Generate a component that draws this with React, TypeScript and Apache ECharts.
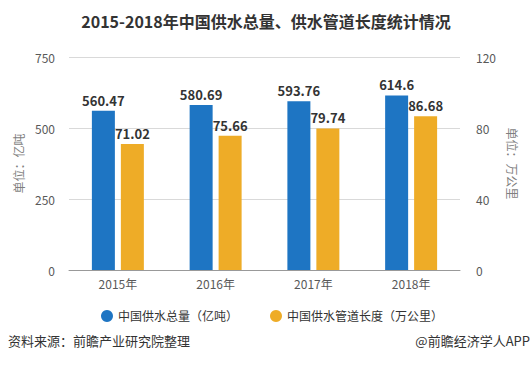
import React, { useEffect, useRef } from "react";
import * as echarts from "echarts";

const categories = ["2015年", "2016年", "2017年", "2018年"];
const supplyVolume = [560.47, 580.69, 593.76, 614.6];
const pipeLength = [71.02, 75.66, 79.74, 86.68];
const leftTicks = { min: 0, max: 750, interval: 250 };
const rightTicks = { min: 0, max: 120, interval: 40 };

const FONT = '"Noto Sans CJK SC", "Noto Sans", sans-serif';

export default function App() {
  const ref = useRef<HTMLDivElement>(null);
  useEffect(() => {
    if (!ref.current) return;
    const chart = echarts.init(ref.current, undefined, { renderer: "svg" });
    chart.setOption({
      animation: false,
      backgroundColor: "#ffffff",
      textStyle: { fontFamily: FONT },
      title: {
        text: "2015-2018年中国供水总量、供水管道长度统计情况",
        left: "center",
        top: 8,
        textStyle: { fontFamily: FONT, fontSize: 16, fontWeight: "bold", color: "#333333" },
      },
      legend: {
        bottom: 44,
        left: 96,
        itemGap: 32,
        icon: "circle",
        itemWidth: 12,
        itemHeight: 12,
        textStyle: { fontFamily: FONT, fontSize: 12, color: "#333333" },
        data: ["中国供水总量（亿吨）", "中国供水管道长度（万公里）"],
      },
      grid: { left: 69, right: 72, top: 57, bottom: 101 },
      xAxis: {
        type: "category",
        data: categories,
        axisTick: { alignWithLabel: true, length: 4, lineStyle: { color: "#999" } },
        axisLine: { lineStyle: { color: "#999999" } },
        axisLabel: { color: "#595959", fontSize: 12, fontFamily: FONT, margin: 7 },
      },
      yAxis: [
        {
          type: "value",
          ...leftTicks,
          name: "单位：亿吨",
          nameLocation: "middle",
          nameGap: 42,
          nameTextStyle: { color: "#7f7f7f", fontSize: 12, fontFamily: FONT },
          axisLine: { show: false },
          axisTick: { show: false },
          splitLine: { lineStyle: { color: "#d9d9d9" } },
          axisLabel: { color: "#595959", fontSize: 12, fontFamily: FONT, margin: 14 },
        },
        {
          type: "value",
          ...rightTicks,
          name: "单位：万公里",
          nameLocation: "middle",
          nameGap: 46,
          nameRotate: -90,
          nameTextStyle: { color: "#7f7f7f", fontSize: 12, fontFamily: FONT },
          axisLine: { show: false },
          axisTick: { show: false },
          splitLine: { show: false },
          axisLabel: { color: "#595959", fontSize: 12, fontFamily: FONT, margin: 16 },
        },
      ],
      series: [
        {
          name: "中国供水总量（亿吨）",
          type: "bar",
          yAxisIndex: 0,
          data: supplyVolume,
          barWidth: 23,
          barGap: "26%",
          itemStyle: { color: "#1e75c3" },
          label: {
            show: true,
            position: "top",
            distance: 4,
            color: "#333333",
            fontWeight: "bold",
            fontSize: 13,
            fontFamily: FONT,
          },
        },
        {
          name: "中国供水管道长度（万公里）",
          type: "bar",
          yAxisIndex: 1,
          data: pipeLength,
          barWidth: 23,
          itemStyle: { color: "#eeac27" },
          label: {
            show: true,
            position: "top",
            distance: 4,
            color: "#333333",
            fontWeight: "bold",
            fontSize: 13,
            fontFamily: FONT,
          },
        },
      ],
      graphic: [
        {
          type: "text",
          left: 8,
          top: 334,
          style: { text: "资料来源：前瞻产业研究院整理", fill: "#333333", font: `13px ${FONT}` },
        },
        {
          type: "text",
          right: 2,
          top: 334,
          style: { text: "@前瞻经济学人APP", fill: "#333333", font: `13px ${FONT}` },
        },
      ],
    });
    return () => chart.dispose();
  }, []);
  return <div ref={ref} style={{ width: 532, height: 371, position: "fixed", left: 0, top: 0 }} />;
}
